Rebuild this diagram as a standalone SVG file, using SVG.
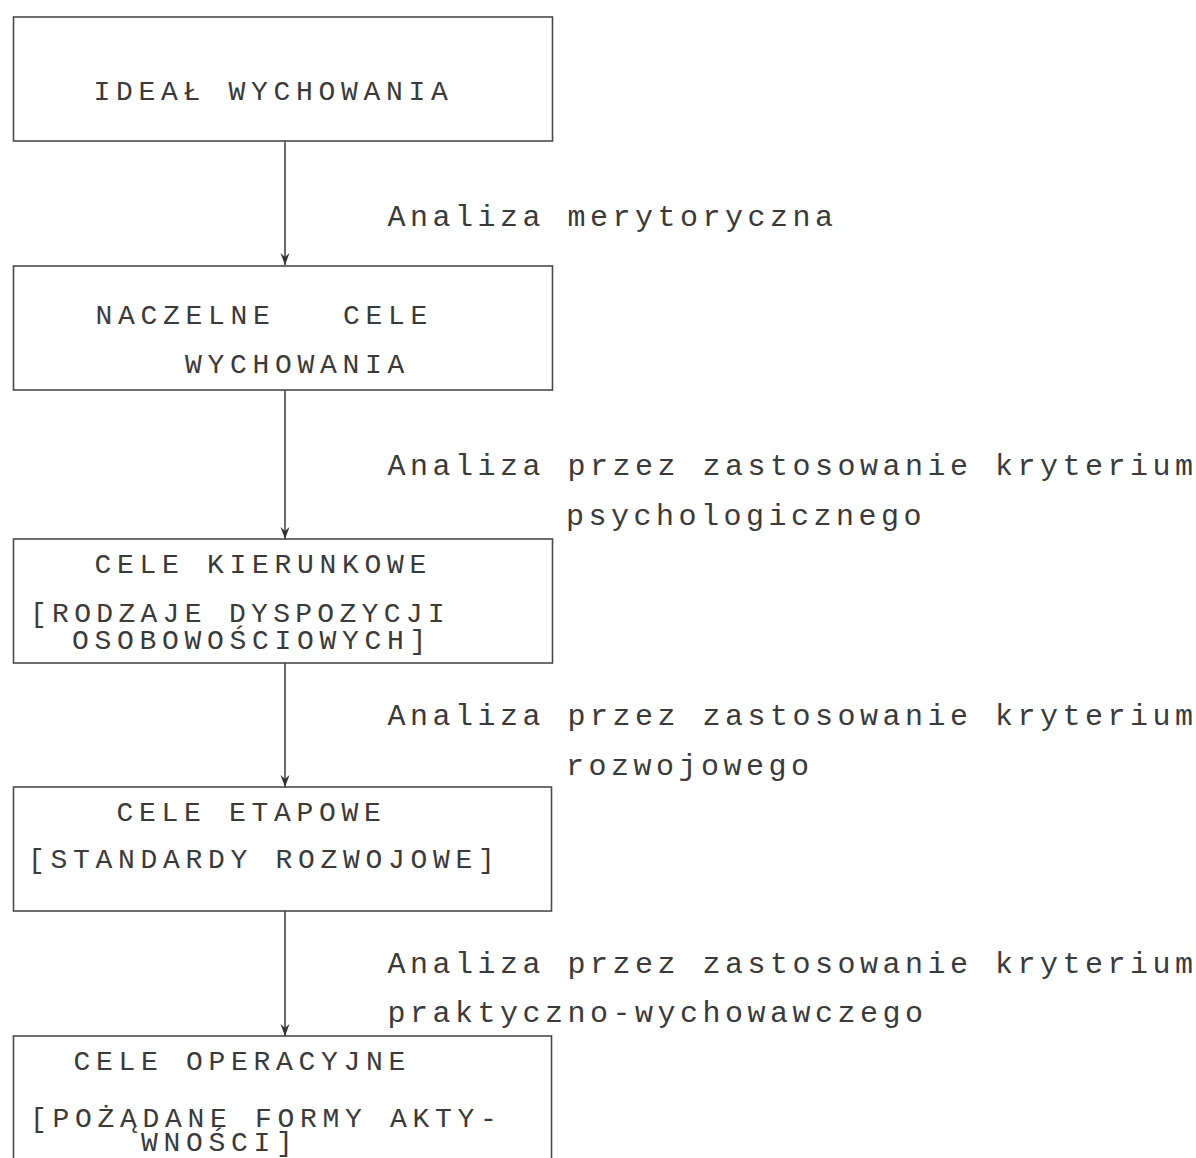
<svg xmlns="http://www.w3.org/2000/svg" width="1196" height="1158" viewBox="0 0 1196 1158">
  <defs>
    <marker id="arrow" viewBox="0 0 12 10" refX="12" refY="5" markerWidth="12" markerHeight="10" markerUnits="userSpaceOnUse" orient="auto">
      <path d="M0,0.5 L12,5 L0,9.5 L4,5 z" fill="#333"/>
    </marker>
  </defs>
  <style>
    .box { fill: none; stroke: #4a4a4a; stroke-width: 1.6; }
    .bt { font-family: "Liberation Mono", "DejaVu Sans Mono", monospace; font-size: 28px; letter-spacing: 5.7px; fill: #3a3a3a; }
    .lb { font-family: "Liberation Mono", "DejaVu Sans Mono", monospace; font-size: 30px; letter-spacing: 4.5px; fill: #3a3a3a; }
    .conn { stroke: #3a3a3a; stroke-width: 1.5; fill: none; }
  </style>
  <rect width="1196" height="1158" fill="#ffffff"/>

  <g id="connectors">
    <line class="conn" x1="285" y1="141" x2="285" y2="265" marker-end="url(#arrow)"/>
    <line class="conn" x1="285" y1="390" x2="285" y2="539" marker-end="url(#arrow)"/>
    <line class="conn" x1="285" y1="663" x2="285" y2="787" marker-end="url(#arrow)"/>
    <line class="conn" x1="285" y1="911" x2="285" y2="1036" marker-end="url(#arrow)"/>
  </g>

  <g id="labels">
    <text class="lb" x="387.5" y="226">Analiza merytoryczna</text>
    <text class="lb" x="387.5" y="475">Analiza przez zastosowanie kryterium</text>
    <text class="lb" x="566" y="525">psychologicznego</text>
    <text class="lb" x="387.5" y="725">Analiza przez zastosowanie kryterium</text>
    <text class="lb" x="566" y="775">rozwojowego</text>
    <text class="lb" x="387.5" y="973">Analiza przez zastosowanie kryterium</text>
    <text class="lb" x="387.5" y="1022">praktyczno-wychowawczego</text>
  </g>

  <g id="node-ideal">
    <rect class="box" x="13.5" y="17" width="539" height="124"/>
    <text class="bt" x="93.5" y="100">IDEAŁ WYCHOWANIA</text>
  </g>

  <g id="node-naczelne">
    <rect class="box" x="13.5" y="266" width="539" height="124"/>
    <text class="bt" x="95.5" y="324">NACZELNE</text>
    <text class="bt" x="343" y="324">CELE</text>
    <text class="bt" x="185" y="373">WYCHOWANIA</text>
  </g>

  <g id="node-kierunkowe">
    <rect class="box" x="13.5" y="539" width="539" height="124"/>
    <text class="bt" x="94.5" y="573">CELE KIERUNKOWE</text>
    <text class="bt" x="30" y="622" style="letter-spacing:5.3px">[RODZAJE DYSPOZYCJI</text>
    <text class="bt" x="72" y="649">OSOBOWOŚCIOWYCH]</text>
  </g>

  <g id="node-etapowe">
    <rect class="box" x="13.5" y="787" width="538" height="124"/>
    <text class="bt" x="116.5" y="821">CELE ETAPOWE</text>
    <text class="bt" x="28" y="868">[STANDARDY ROZWOJOWE]</text>
  </g>

  <g id="node-operacyjne">
    <rect class="box" x="13.5" y="1036" width="538" height="140"/>
    <text class="bt" x="73.5" y="1070">CELE OPERACYJNE</text>
    <text class="bt" x="30" y="1127">[POŻĄDANE FORMY AKTY-</text>
    <text class="bt" x="141" y="1151">WNOŚCI]</text>
  </g>
</svg>
